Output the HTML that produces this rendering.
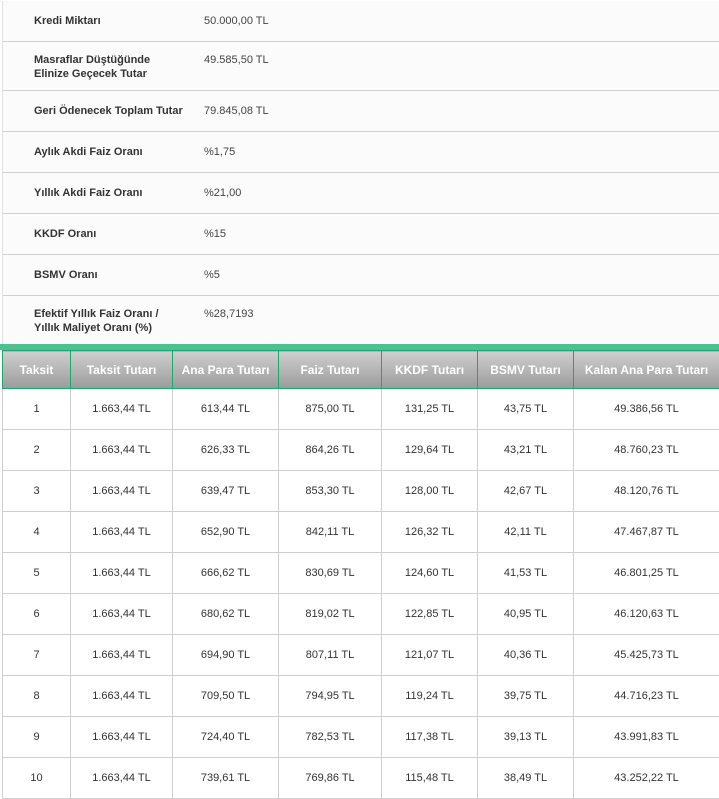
<!DOCTYPE html>
<html><head><meta charset="utf-8"><style>
*{margin:0;padding:0;box-sizing:border-box}
body{width:719px;height:797px;overflow:hidden;background:#fff;font-family:"Liberation Sans",Arial,sans-serif;font-size:11px;color:#333}
.top{position:absolute;left:2px;top:1px;width:717px;background:#fbfbfb;border-left:1px solid #e0e0e0}
.r{position:relative;border-bottom:1px solid #d0d0d0}
.r .l{position:absolute;left:31px;top:13px;font-weight:bold;line-height:14px;color:#333}
.r .v{position:absolute;left:201px;top:13px;line-height:14px;color:#444}
.bar{position:absolute;left:0;top:344px;width:719px;height:6px;background:#4dbf91}
table{position:absolute;left:2px;top:350px;border-collapse:collapse;width:717px;table-layout:fixed}
th{height:38px;background:linear-gradient(#cfcfcf,#9b9b9b);color:#fff;font-weight:bold;font-size:12px;border:1px solid #1aa873;text-align:center}
td{height:41px;border:1px solid #cfcfcf;text-align:center;color:#333;background:#fff}
</style></head><body>
<div class="top">
<div class="r" style="height:41px"><div class="l">Kredi Miktarı</div><div class="v">50.000,00 TL</div></div>
<div class="r" style="height:49px"><div class="l" style="top:11px">Masraflar Düştüğünde<br>Elinize Geçecek Tutar</div><div class="v" style="top:11px">49.585,50 TL</div></div>
<div class="r" style="height:41px"><div class="l">Geri Ödenecek Toplam Tutar</div><div class="v">79.845,08 TL</div></div>
<div class="r" style="height:41px"><div class="l">Aylık Akdi Faiz Oranı</div><div class="v">%1,75</div></div>
<div class="r" style="height:41px"><div class="l">Yıllık Akdi Faiz Oranı</div><div class="v">%21,00</div></div>
<div class="r" style="height:41px"><div class="l">KKDF Oranı</div><div class="v">%15</div></div>
<div class="r" style="height:41px"><div class="l">BSMV Oranı</div><div class="v">%5</div></div>
<div class="r" style="height:48px;border:none"><div class="l" style="top:11px">Efektif Yıllık Faiz Oranı /<br>Yıllık Maliyet Oranı (%)</div><div class="v" style="top:11px">%28,7193</div></div>
</div>
<div class="bar"></div>
<table>
<colgroup><col style="width:68px"><col style="width:102px"><col style="width:106px"><col style="width:103px"><col style="width:96px"><col style="width:96px"><col style="width:146px"></colgroup>
<tr><th>Taksit</th><th>Taksit Tutarı</th><th>Ana Para Tutarı</th><th>Faiz Tutarı</th><th>KKDF Tutarı</th><th>BSMV Tutarı</th><th>Kalan Ana Para Tutarı</th></tr>
<tr><td>1</td><td>1.663,44 TL</td><td>613,44 TL</td><td>875,00 TL</td><td>131,25 TL</td><td>43,75 TL</td><td>49.386,56 TL</td></tr>
<tr><td>2</td><td>1.663,44 TL</td><td>626,33 TL</td><td>864,26 TL</td><td>129,64 TL</td><td>43,21 TL</td><td>48.760,23 TL</td></tr>
<tr><td>3</td><td>1.663,44 TL</td><td>639,47 TL</td><td>853,30 TL</td><td>128,00 TL</td><td>42,67 TL</td><td>48.120,76 TL</td></tr>
<tr><td>4</td><td>1.663,44 TL</td><td>652,90 TL</td><td>842,11 TL</td><td>126,32 TL</td><td>42,11 TL</td><td>47.467,87 TL</td></tr>
<tr><td>5</td><td>1.663,44 TL</td><td>666,62 TL</td><td>830,69 TL</td><td>124,60 TL</td><td>41,53 TL</td><td>46.801,25 TL</td></tr>
<tr><td>6</td><td>1.663,44 TL</td><td>680,62 TL</td><td>819,02 TL</td><td>122,85 TL</td><td>40,95 TL</td><td>46.120,63 TL</td></tr>
<tr><td>7</td><td>1.663,44 TL</td><td>694,90 TL</td><td>807,11 TL</td><td>121,07 TL</td><td>40,36 TL</td><td>45.425,73 TL</td></tr>
<tr><td>8</td><td>1.663,44 TL</td><td>709,50 TL</td><td>794,95 TL</td><td>119,24 TL</td><td>39,75 TL</td><td>44.716,23 TL</td></tr>
<tr><td>9</td><td>1.663,44 TL</td><td>724,40 TL</td><td>782,53 TL</td><td>117,38 TL</td><td>39,13 TL</td><td>43.991,83 TL</td></tr>
<tr><td>10</td><td>1.663,44 TL</td><td>739,61 TL</td><td>769,86 TL</td><td>115,48 TL</td><td>38,49 TL</td><td>43.252,22 TL</td></tr>
</table>
</body></html>
